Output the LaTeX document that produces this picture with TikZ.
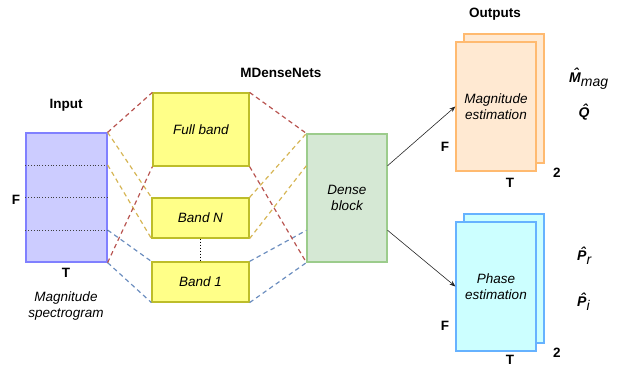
\documentclass[tikz,border=0pt]{standalone}
\usepackage{fontspec}
\setmainfont{Liberation Sans}
\usetikzlibrary{arrows.meta,calc}
\definecolor{inFill}{HTML}{CCCCFF}
\definecolor{inDraw}{HTML}{8080FF}
\definecolor{yFill}{HTML}{FFFF88}
\definecolor{yDraw}{HTML}{BDBD2A}
\definecolor{gFill}{HTML}{D5E8D4}
\definecolor{gDraw}{HTML}{9CCC8C}
\definecolor{oFill}{HTML}{FFE9D2}
\definecolor{oDraw}{HTML}{FFBA70}
\definecolor{cFill}{HTML}{CCFFFF}
\definecolor{cDraw}{HTML}{66B2FF}
\definecolor{lnRed}{HTML}{B85450}
\definecolor{lnYel}{HTML}{D6B656}
\definecolor{lnBlu}{HTML}{6C8EBF}
\newcommand\capHat[1]{\leavevmode\setbox0\hbox{#1}\rlap{\hbox to\wd0{\hss\kern0.14em\raisebox{0.24em}[0pt][0pt]{\bfseries ˆ}\hss}}\box0}
\begin{document}
\begin{tikzpicture}[x=1pt,y=-1pt,
  font=\fontsize{13.5}{16.5}\selectfont,
  box/.style={rectangle,line width=1.2pt,inner sep=0pt,align=center,font=\fontsize{13.5}{16.5}\selectfont\itshape},
  lbl/.style={inner sep=0pt,font=\fontsize{13.5}{16.5}\selectfont\bfseries},
  txt/.style={inner sep=0pt,align=center,font=\fontsize{13.5}{16}\selectfont\itshape},
  mlbl/.style={inner sep=0pt,font=\fontsize{14}{16}\selectfont},
  dsh/.style={line width=1.2pt,dash pattern=on 4.5pt off 3.5pt},
  arr/.style={line width=0.6pt,draw=black!85,-{Stealth[length=6pt,width=4.5pt]}}]
\useasboundingbox (0,0) rectangle (622,367);

% input
\node[box,draw=inDraw,fill=inFill,minimum width=81pt,minimum height=129pt] (in) at (66.5,197.5) {};
\coordinate (i1) at ($(in.north east)!0.25!(in.south east)$);
\coordinate (i2) at ($(in.north east)!0.5!(in.south east)$);
\coordinate (i3) at ($(in.north east)!0.75!(in.south east)$);
\coordinate (j1) at ($(in.north west)!0.25!(in.south west)$);
\coordinate (j2) at ($(in.north west)!0.5!(in.south west)$);
\coordinate (j3) at ($(in.north west)!0.75!(in.south west)$);
\draw[black!75,dotted,line width=0.8pt] (j1) -- (i1) (j2) -- (i2) (j3) -- (i3);
\node[lbl] (inlbl) at (66,105) {Input};
\node[lbl] (inF) at (16,200) {F};
\node[lbl] (inT) at (66,273) {T};
\node[txt] (spec) at (66,306) {Magnitude\\spectrogram};

% bands
\node[box,draw=yDraw,fill=yFill,minimum width=96pt,minimum height=73pt] (full) at (201,129.5) {Full band};
\node[box,draw=yDraw,fill=yFill,minimum width=97pt,minimum height=40pt] (bandN) at (200.5,218) {Band N};
\node[box,draw=yDraw,fill=yFill,minimum width=97pt,minimum height=40pt] (band1) at (200.5,282) {Band 1};
\draw[dotted,line width=1pt] (bandN.south) -- (band1.north);
\node[lbl] (mdn) at (281,73) {MDenseNets};

% dense block
\node[box,draw=gDraw,fill=gFill,minimum width=80pt,minimum height=128pt] (dense) at (347,198) {Dense\\block};
\coordinate (e1) at ($(dense.north west)!0.25!(dense.south west)$);
\coordinate (e3) at ($(dense.north west)!0.75!(dense.south west)$);
\coordinate (a1) at ($(dense.north east)!0.25!(dense.south east)$);
\coordinate (a3) at ($(dense.north east)!0.75!(dense.south east)$);

% dashed connectors left
\draw[dsh,lnYel] (in.north east) -- (bandN.north west);
\draw[dsh,lnYel] (i1) -- (bandN.south west);
\draw[dsh,lnBlu] (i3) -- (band1.north west);
\draw[dsh,lnBlu] (in.south east) -- (band1.south west);
\draw[dsh,lnRed] (in.north east) -- (full.north west);
\draw[dsh,lnRed] (in.south east) -- (full.south west);
% dashed connectors right
\draw[dsh,lnYel] (bandN.north east) -- (dense.north west);
\draw[dsh,lnYel] (bandN.south east) -- (e1);
\draw[dsh,lnBlu] (band1.north east) -- (e3);
\draw[dsh,lnBlu] (band1.south east) -- (dense.south west);
\draw[dsh,lnRed] (full.north east) -- (dense.north west);
\draw[dsh,lnRed] (full.south east) -- (dense.south west);

% outputs
\node[lbl] (outl) at (495,14) {Outputs};
\node[box,draw=oDraw,fill=oFill,minimum width=80pt,minimum height=129pt] (magB) at (504,98.5) {};
\node[box,draw=oDraw,fill=oFill,minimum width=80pt,minimum height=129pt] (mag) at (496,106.5) {Magnitude\\estimation};
\node[box,draw=cDraw,fill=cFill,minimum width=80pt,minimum height=129pt] (phB) at (504,278.5) {};
\node[box,draw=cDraw,fill=cFill,minimum width=80pt,minimum height=129pt] (ph) at (496,286.5) {Phase\\estimation};
\draw[arr] (a1) -- (mag.west);
\draw[arr] (a3) -- (ph.west);

\node[lbl] (mF) at (445,147) {F};
\node[lbl] (mT) at (510,183) {T};
\node[lbl] (m2) at (557,173) {2};
\node[lbl] (pF) at (445,326) {F};
\node[lbl] (pT) at (510,360) {T};
\node[lbl] (p2) at (557,353) {2};

\node[mlbl,anchor=west] (Mm) at (569,81) {\textbf{\textit{\capHat{M}}}\textit{\raisebox{-0.3em}{mag}}};
\node[mlbl] (Qh) at (584,114) {\textbf{\textit{\capHat{Q}}}};
\node[mlbl,anchor=west] (Pr) at (577,258) {\textbf{\textit{\capHat{P}}}\textit{\raisebox{-0.3em}{r}}};
\node[mlbl,anchor=west] (Pi) at (577,304) {\textbf{\textit{\capHat{P}}}\textit{\raisebox{-0.3em}{i}}};
\end{tikzpicture}
\end{document}
